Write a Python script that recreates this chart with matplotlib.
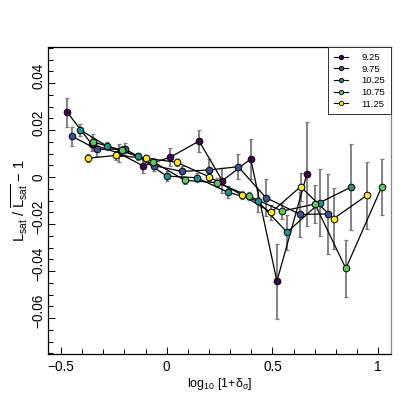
import matplotlib
matplotlib.use("Agg")
import matplotlib.pyplot as plt
from matplotlib.ticker import MultipleLocator, FixedLocator
from matplotlib.transforms import ScaledTranslation
import numpy as np

plt.rcParams['font.family'] = ['Liberation Sans', 'DejaVu Sans']
plt.rcParams['mathtext.fontset'] = 'custom'
plt.rcParams['mathtext.rm'] = 'Liberation Sans'
plt.rcParams['mathtext.it'] = 'Liberation Sans'
plt.rcParams['mathtext.bf'] = 'Liberation Sans:bold'

labels = ["9.25", "9.75", "10.25", "10.75", "11.25"]
colors = ["#440154", "#3B528B", "#21908C", "#5DC863", "#FDE725"]

x_925 = [-0.470, -0.354, -0.227, -0.111, 0.016, 0.153, 0.263, 0.397, 0.521, 0.663]
y_925 = [0.0275, 0.0139, 0.0102, 0.0047, 0.0084, 0.0153, -0.0016, 0.0077, -0.0443, 0.0014]
e_925 = [0.0063, 0.0030, 0.0037, 0.0030, 0.0038, 0.0047, 0.0054, 0.0084, 0.0160, 0.0222]

x_975 = [-0.449, -0.331, -0.196, -0.058, 0.071, 0.200, 0.338, 0.469, 0.631, 0.764]
y_975 = [0.0174, 0.0118, 0.0119, 0.0048, 0.0024, 0.0030, 0.0044, -0.0088, -0.0159, -0.0157]
e_975 = [0.0040, 0.0028, 0.0025, 0.0022, 0.0025, 0.0048, 0.0052, 0.0078, 0.0096, 0.0172]

x_1025 = [-0.408, -0.284, -0.137, 0.000, 0.142, 0.288, 0.430, 0.569, 0.724, 0.871]
y_1025 = [0.0200, 0.0132, 0.0088, 0.0004, -0.0003, -0.0064, -0.0102, -0.0235, -0.0109, -0.0043]
e_1025 = [0.0024, 0.0016, 0.0015, 0.0020, 0.0020, 0.0025, 0.0045, 0.0074, 0.0143, 0.0183]

x_1075 = [-0.347, -0.213, -0.063, 0.086, 0.239, 0.389, 0.546, 0.701, 0.847, 1.016]
y_1075 = [0.0149, 0.0114, 0.0064, -0.0014, -0.0024, -0.0081, -0.0145, -0.0115, -0.0389, -0.0043]
e_1075 = [0.0035, 0.0020, 0.0015, 0.0015, 0.0020, 0.0018, 0.0035, 0.0080, 0.0122, 0.0118]

x_1125 = [-0.373, -0.240, -0.099, 0.047, 0.200, 0.357, 0.494, 0.633, 0.789, 0.948]
y_1125 = [0.0080, 0.0092, 0.0080, 0.0063, 0.0001, -0.0077, -0.0150, -0.0041, -0.0177, -0.0077]
e_1125 = [0.0016, 0.0020, 0.0015, 0.0015, 0.0015, 0.0018, 0.0032, 0.0060, 0.0131, 0.0143]

xtick_vals = [-0.5, 0, 0.5, 1]
xtick_labels = ['\u22120.5', '0', '0.5', '1']
ytick_vals = [-0.06, -0.04, -0.02, 0, 0.02, 0.04]
ytick_labels = ['\u22120.06', '\u22120.04', '\u22120.02', '0', '0.02', '0.04']

series = [(x_925, y_925, e_925), (x_975, y_975, e_975), (x_1025, y_1025, e_1025),
          (x_1075, y_1075, e_1075), (x_1125, y_1125, e_1125)]

fig = plt.figure(figsize=(4.15, 4.15), dpi=100)
ax = fig.add_axes([0.1164, 0.147, 0.825, 0.739])

for (xs, ys, es), col, lab in zip(series, colors, labels):
    ax.errorbar(xs, ys, yerr=es, fmt='none', ecolor='#7a7a7a', elinewidth=1.3,
                capsize=1.5, capthick=0.9, zorder=2)
    ax.plot(xs, ys, '-', color='black', lw=0.9, zorder=3)
    ax.plot(xs, ys, 'o', color=col, mec='black', mew=0.7, ms=4.8, zorder=4)

handles = []
for col, lab in zip(colors, labels):
    h, = ax.plot([], [], '-o', color='black', lw=0.8, mfc=col, mec='black',
                 mew=0.6, ms=3.2)
    handles.append(h)
leg = ax.legend(handles, labels, loc='upper right', fontsize=6.8, frameon=True,
                fancybox=False, edgecolor='#333333', handlelength=1.5,
                labelspacing=0.28, borderpad=0.6, handletextpad=1.4,
                borderaxespad=0.0, bbox_to_anchor=(1.0, 1.0), framealpha=1)
leg.get_frame().set_linewidth(0.7)

ax.set_xlim(-0.56, 1.059)
ax.set_ylim(-0.0753, 0.0552)

ax.xaxis.set_major_locator(FixedLocator(xtick_vals))
ax.xaxis.set_minor_locator(MultipleLocator(0.1))
ax.yaxis.set_major_locator(FixedLocator(ytick_vals))
ax.yaxis.set_minor_locator(MultipleLocator(0.005))
ax.set_xticklabels(xtick_labels)
ax.set_yticklabels(ytick_labels, rotation=90, va='center')
ax.tick_params(which='both', direction='in', top=False, right=False,
               labelsize=9.8, width=0.7)
ax.tick_params(which='major', length=5, pad=4)
ax.tick_params(which='minor', length=3.5)
ax.tick_params(axis='y', pad=2)

shift = ScaledTranslation(0, 7 / 100, fig.dpi_scale_trans)
for t in ax.get_yticklabels():
    if t.get_text() != '0':
        t.set_transform(t.get_transform() + shift)

for s in ax.spines.values():
    s.set_linewidth(0.9)
ax.spines['right'].set_color('#888888')

ax.set_xlabel(r'log$_{10}$ [1+$\delta_{\sigma}$]', fontsize=9, labelpad=2)
ax.set_ylabel(r'L$_{\rm sat}$ / $\overline{\rm L_{sat}}$ $-$ 1', fontsize=10.5, labelpad=1)

fig.savefig('out.png', dpi=100)
